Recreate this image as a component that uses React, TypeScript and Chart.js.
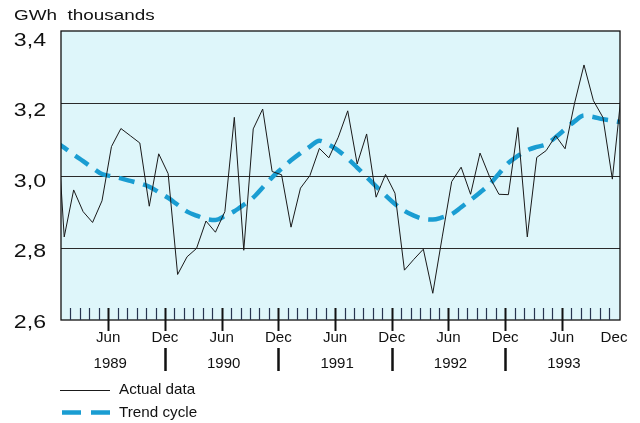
import React, { useEffect, useRef } from 'react';
import { Chart, registerables } from 'chart.js';
Chart.register(...registerables);

const unitLabel = 'GWh  thousands';
const years = ['1989', '1990', '1991', '1992', '1993'];
const monthNames = ['Jan', 'Feb', 'Mar', 'Apr', 'May', 'Jun', 'Jul', 'Aug', 'Sep', 'Oct', 'Nov', 'Dec'];
const labeledMonths = ['Jun', 'Dec'];
const yTicks = [2.6, 2.8, 3.0, 3.2, 3.4];
const yGrid = [2.8, 3.0, 3.2];

// Monthly values; the first entry is Dec 1988 (lead-in, falls outside the axis)
const actualDec1988 = [3.25];
const actual1989 = [2.83, 2.96, 2.90, 2.87, 2.93, 3.08, 3.13, 3.11, 3.09, 2.915, 3.06, 3.005];
const actual1990 = [2.726, 2.775, 2.798, 2.874, 2.843, 2.90, 3.161, 2.793, 3.129, 3.184, 3.011, 3.002];
const actual1991 = [2.857, 2.965, 3.0, 3.075, 3.049, 3.106, 3.179, 3.032, 3.115, 2.94, 3.003, 2.951];
const actual1992 = [2.738, 2.768, 2.796, 2.674, 2.83, 2.983, 3.023, 2.948, 3.062, 2.997, 2.948, 2.947];
const actual1993 = [3.133, 2.83, 3.05, 3.069, 3.11, 3.074, 3.2, 3.306, 3.207, 3.161, 2.99, 3.24];

const trendDec1988 = [3.095];
const trend1989 = [3.077, 3.058, 3.04, 3.021, 3.004, 2.998, 2.992, 2.985, 2.978, 2.969, 2.954, 2.938];
const trend1990 = [2.919, 2.90, 2.889, 2.88, 2.877, 2.888, 2.901, 2.919, 2.939, 2.967, 2.995, 3.019];
const trend1991 = [3.042, 3.062, 3.08, 3.096, 3.085, 3.069, 3.047, 3.022, 2.996, 2.97, 2.945, 2.921];
const trend1992 = [2.902, 2.889, 2.88, 2.878, 2.884, 2.893, 2.912, 2.932, 2.953, 2.975, 3.005, 3.035];
const trend1993 = [3.054, 3.07, 3.079, 3.086, 3.106, 3.128, 3.15, 3.166, 3.162, 3.156, 3.152, 3.147];

const actualSeries = [...actualDec1988, ...actual1989, ...actual1990, ...actual1991, ...actual1992, ...actual1993];
const trendSeries = [...trendDec1988, ...trend1989, ...trend1990, ...trend1991, ...trend1992, ...trend1993];

const POINT_OFFSET = 0.34; // points sit a third of a month after each month tick
const toPoints = (vals: number[]) => vals.map((v, i) => ({ x: i - 1 + POINT_OFFSET, y: v }));

const BG = 'rgb(222,246,250)';
const TREND_COLOR = '#1a9dd2';
const INK = '#111111';
const FONT = '"Liberation Sans", Arial, Helvetica, sans-serif';

function stretchText(ctx: CanvasRenderingContext2D, str: string, x: number, y: number, size: number, sx: number, align: 'left' | 'center' | 'right') {
  ctx.save();
  ctx.font = `${size}px ${FONT}`;
  ctx.textBaseline = 'middle';
  ctx.textAlign = 'left';
  const w = ctx.measureText(str).width * sx;
  const left = align === 'center' ? x - w / 2 : align === 'right' ? x - w : x;
  ctx.translate(left, y);
  ctx.scale(sx, 1);
  ctx.fillStyle = INK;
  ctx.fillText(str, 0, 0);
  ctx.restore();
  return w;
}

const decorPlugin = {
  id: 'decor',
  beforeDraw(chart: any) {
    const { ctx, chartArea: a } = chart;
    ctx.save();
    ctx.fillStyle = '#ffffff';
    ctx.fillRect(0, 0, chart.width, chart.height);
    ctx.fillStyle = BG;
    ctx.fillRect(a.left, a.top, a.right - a.left, a.bottom - a.top);
    ctx.restore();
  },
  beforeDatasetsDraw(chart: any) {
    const { ctx, chartArea: a } = chart;
    const ys = chart.scales.y;
    ctx.save();
    ctx.strokeStyle = '#2a2a2a';
    ctx.lineWidth = 1.2;
    yGrid.forEach((v) => {
      const py = Math.round(ys.getPixelForValue(v)) + 0.5;
      ctx.beginPath();
      ctx.moveTo(a.left, py);
      ctx.lineTo(a.right, py);
      ctx.stroke();
    });
    ctx.restore();
  },
  afterDatasetsDraw(chart: any) {
    const { ctx, chartArea: a } = chart;
    const xs = chart.scales.x;
    const ys = chart.scales.y;
    ctx.save();
    // frame
    ctx.strokeStyle = '#111';
    ctx.lineWidth = 1.3;
    ctx.strokeRect(a.left, a.top, a.right - a.left, a.bottom - a.top);

    // month ticks
    const nMonths = years.length * monthNames.length;
    for (let k = 1; k < nMonths - 1; k++) {
      const name = monthNames[k % 12];
      const px = Math.round(xs.getPixelForValue(k)) + 0.5;
      const major = labeledMonths.includes(name);
      ctx.strokeStyle = major ? '#111' : '#26344f';
      ctx.lineWidth = major ? 2 : 1.2;
      ctx.beginPath();
      ctx.moveTo(px, a.bottom - 12);
      ctx.lineTo(px, major ? a.bottom + 11 : a.bottom);
      ctx.stroke();
    }
    // month labels
    for (let k = 0; k < nMonths; k++) {
      const name = monthNames[k % 12];
      if (!labeledMonths.includes(name)) continue;
      let px = xs.getPixelForValue(k);
      if (px > a.right - 6) px = a.right - 6;
      stretchText(ctx, name, px, 338.5, 14, 1.08, 'center');
    }
    // year separators and labels
    years.forEach((yr, j) => {
      const decK = j * 12 + 11;
      if (j < years.length - 1) {
        const px = Math.round(xs.getPixelForValue(decK)) + 0.5;
        ctx.strokeStyle = '#111';
        ctx.lineWidth = 2.5;
        ctx.beginPath();
        ctx.moveTo(px, 348);
        ctx.lineTo(px, 371);
        ctx.stroke();
      }
      const junPx = xs.getPixelForValue(j * 12 + 5) + 2;
      stretchText(ctx, yr, junPx, 364, 15, 1.0, 'center');
    });

    // y labels
    yTicks.forEach((v) => {
      const py = ys.getPixelForValue(v) + 2.5 + (v - 2.6) * 9;
      stretchText(ctx, v.toFixed(1).replace('.', ','), 46, py, 18.5, 1.25, 'right');
    });

    // unit title
    stretchText(ctx, unitLabel, 14, 15.5, 15, 1.26, 'left');

    // legend
    const ds = chart.data.datasets;
    ctx.strokeStyle = ds[0].borderColor;
    ctx.lineWidth = 1;
    ctx.beginPath();
    ctx.moveTo(60, 390.5);
    ctx.lineTo(110, 390.5);
    ctx.stroke();
    stretchText(ctx, ds[0].label, 119, 389.5, 14.5, 1.05, 'left');

    ctx.strokeStyle = ds[1].borderColor;
    ctx.lineWidth = 4.5;
    ctx.setLineDash([19, 10]);
    ctx.beginPath();
    ctx.moveTo(62, 412.5);
    ctx.lineTo(110, 412.5);
    ctx.stroke();
    ctx.setLineDash([]);
    stretchText(ctx, ds[1].label, 119, 412.5, 14.5, 1.05, 'left');
    ctx.restore();
  },
};

export default function App() {
  const ref = useRef<HTMLCanvasElement | null>(null);
  useEffect(() => {
    if (!ref.current) return;
    const chart = new Chart(ref.current, {
      type: 'line',
      data: {
        datasets: [
          {
            label: 'Actual data',
            data: toPoints(actualSeries),
            borderColor: '#1a1a1a',
            borderWidth: 1,
            pointRadius: 0,
            tension: 0,
            clip: 0,
          },
          {
            label: 'Trend cycle',
            data: toPoints(trendSeries),
            borderColor: TREND_COLOR,
            borderWidth: 4.5,
            borderDash: [16, 9],
            borderCapStyle: 'butt',
            pointRadius: 0,
            cubicInterpolationMode: 'monotone',
            clip: 0,
          },
        ],
      } as any,
      options: {
        animation: false,
        responsive: false,
        devicePixelRatio: 1,
        layout: { padding: { left: 61, right: 20, top: 31, bottom: 103 } },
        plugins: { legend: { display: false }, tooltip: { enabled: false } },
        scales: {
          x: { type: 'linear', min: 0, max: 59.15, display: false },
          y: { type: 'linear', min: 2.6, max: 3.4, display: false },
        },
      } as any,
      plugins: [decorPlugin],
    });
    return () => chart.destroy();
  }, []);
  return (
    <div style={{ position: 'fixed', left: 0, top: 0, width: 640, height: 423, background: '#fff' }}>
      <canvas ref={ref} width={640} height={423} />
    </div>
  );
}
